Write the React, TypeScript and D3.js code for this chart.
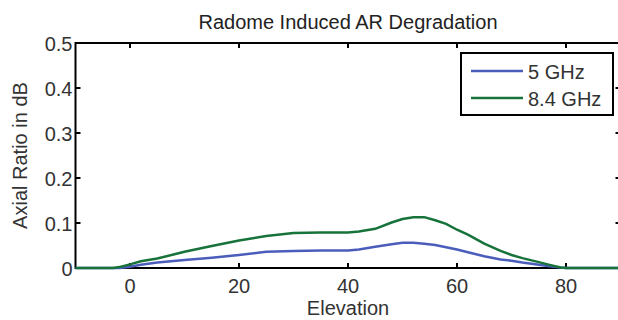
import { useRef, useEffect } from 'react'
import * as d3 from 'd3'

const ELEVATION = [-10, -3, -2, 0, 2, 5, 10, 15, 20, 25, 30, 35, 40, 42, 45, 48, 50, 52, 54, 56, 58, 60, 62, 65, 68, 70, 72, 75, 77, 79, 80, 90]
const AR_5GHZ = [0, 0, 0, 0.003, 0.007, 0.012, 0.018, 0.023, 0.029, 0.036, 0.038, 0.039, 0.039, 0.041, 0.047, 0.053, 0.056, 0.056, 0.054, 0.051, 0.046, 0.041, 0.035, 0.026, 0.019, 0.016, 0.012, 0.007, 0.004, 0.001, 0, 0]
const AR_84GHZ = [0, 0, 0.002, 0.008, 0.015, 0.021, 0.036, 0.049, 0.061, 0.071, 0.078, 0.079, 0.079, 0.081, 0.087, 0.101, 0.109, 0.113, 0.113, 0.106, 0.098, 0.085, 0.074, 0.054, 0.038, 0.029, 0.022, 0.013, 0.007, 0.001, 0, 0]
const SERIES_NAMES = ['5 GHz', '8.4 GHz']
const X_TICKS = [0, 20, 40, 60, 80]
const Y_TICKS = [0, 0.1, 0.2, 0.3, 0.4, 0.5]

const COLORS = ['#4b5dbb', '#17733a']
const FONT = 'Arial, "Liberation Sans", sans-serif'

export default function App() {
  const svgRef = useRef<SVGSVGElement>(null)

  useEffect(() => {
    if (!svgRef.current) return
    const el = svgRef.current
    const W = 618
    const H = 320
    const pad = { l: 75.5, r: 620.5, t: 43, b: 268 }

    d3.select(el).selectAll('*').remove()
    const svg = d3.select(el).attr('width', W).attr('height', H)

    const x = d3.scaleLinear().domain([-10, 90]).range([pad.l, pad.r])
    const y = d3.scaleLinear().domain([0, 0.5]).range([pad.b, pad.t])

    svg.append('rect').attr('width', W).attr('height', H).attr('fill', '#fff')

    // title
    svg.append('text')
      .attr('x', (pad.l + pad.r) / 2).attr('y', 29)
      .attr('text-anchor', 'middle').attr('font-size', 20)
      .attr('fill', '#222').attr('font-family', FONT)
      .text('Radome Induced AR Degradation')

    // axes box
    svg.append('rect')
      .attr('x', pad.l).attr('y', pad.t)
      .attr('width', pad.r - pad.l).attr('height', pad.b - pad.t)
      .attr('fill', 'none').attr('stroke', '#000').attr('stroke-width', 2)

    const tl = 5
    svg.selectAll('.xtick-b').data(X_TICKS).join('line')
      .attr('x1', d => x(d)).attr('x2', d => x(d))
      .attr('y1', pad.b).attr('y2', pad.b - tl)
      .attr('stroke', '#000').attr('stroke-width', 2)
    svg.selectAll('.xtick-t').data(X_TICKS).join('line')
      .attr('x1', d => x(d)).attr('x2', d => x(d))
      .attr('y1', pad.t).attr('y2', pad.t + tl)
      .attr('stroke', '#000').attr('stroke-width', 2)
    svg.selectAll('.ytick-l').data(Y_TICKS).join('line')
      .attr('x1', pad.l).attr('x2', pad.l + tl)
      .attr('y1', d => y(d)).attr('y2', d => y(d))
      .attr('stroke', '#000').attr('stroke-width', 2)
    svg.selectAll('.ytick-r').data(Y_TICKS).join('line')
      .attr('x1', pad.r).attr('x2', pad.r - tl)
      .attr('y1', d => y(d)).attr('y2', d => y(d))
      .attr('stroke', '#000').attr('stroke-width', 2)

    svg.selectAll('.xlab').data(X_TICKS).join('text')
      .attr('x', d => x(d)).attr('y', pad.b + 25)
      .attr('text-anchor', 'middle').attr('font-size', 20)
      .attr('fill', '#333').attr('font-family', FONT)
      .text(d => String(d))
    svg.selectAll('.ylab').data(Y_TICKS).join('text')
      .attr('x', pad.l - 3).attr('y', d => y(d) + 8)
      .attr('text-anchor', 'end').attr('font-size', 20)
      .attr('fill', '#333').attr('font-family', FONT)
      .text(d => String(d))

    svg.append('text')
      .attr('x', (pad.l + pad.r) / 2).attr('y', 315)
      .attr('text-anchor', 'middle').attr('font-size', 20)
      .attr('fill', '#333').attr('font-family', FONT)
      .text('Elevation')
    svg.append('text')
      .attr('transform', `translate(27,${(pad.t + pad.b) / 2}) rotate(-90)`)
      .attr('text-anchor', 'middle').attr('font-size', 20)
      .attr('fill', '#333').attr('font-family', FONT)
      .text('Axial Ratio in dB')

    // data lines
    const series = [AR_5GHZ, AR_84GHZ]
    const line = d3.line<number>()
      .x((_, i) => x(ELEVATION[i]))
      .y(d => y(d))
    series.forEach((vals, k) => {
      svg.append('path')
        .attr('d', line(vals))
        .attr('fill', 'none')
        .attr('stroke', COLORS[k])
        .attr('stroke-width', 2.5)
    })

    // legend
    const lg = { x: 461, y: 53, w: 152, h: 62 }
    svg.append('rect')
      .attr('x', lg.x).attr('y', lg.y).attr('width', lg.w).attr('height', lg.h)
      .attr('fill', '#fff').attr('stroke', '#000').attr('stroke-width', 2)
    SERIES_NAMES.forEach((name, k) => {
      const cy = 71 + k * 27
      svg.append('line')
        .attr('x1', 471).attr('x2', 523).attr('y1', cy).attr('y2', cy)
        .attr('stroke', COLORS[k]).attr('stroke-width', 2.5)
      svg.append('text')
        .attr('x', 528).attr('y', cy + 8)
        .attr('font-size', 20).attr('fill', '#333').attr('font-family', FONT)
        .text(name)
    })
  }, [])

  return (
    <svg ref={svgRef} style={{ position: 'fixed', left: 0, top: 0, display: 'block' }} />
  )
}
